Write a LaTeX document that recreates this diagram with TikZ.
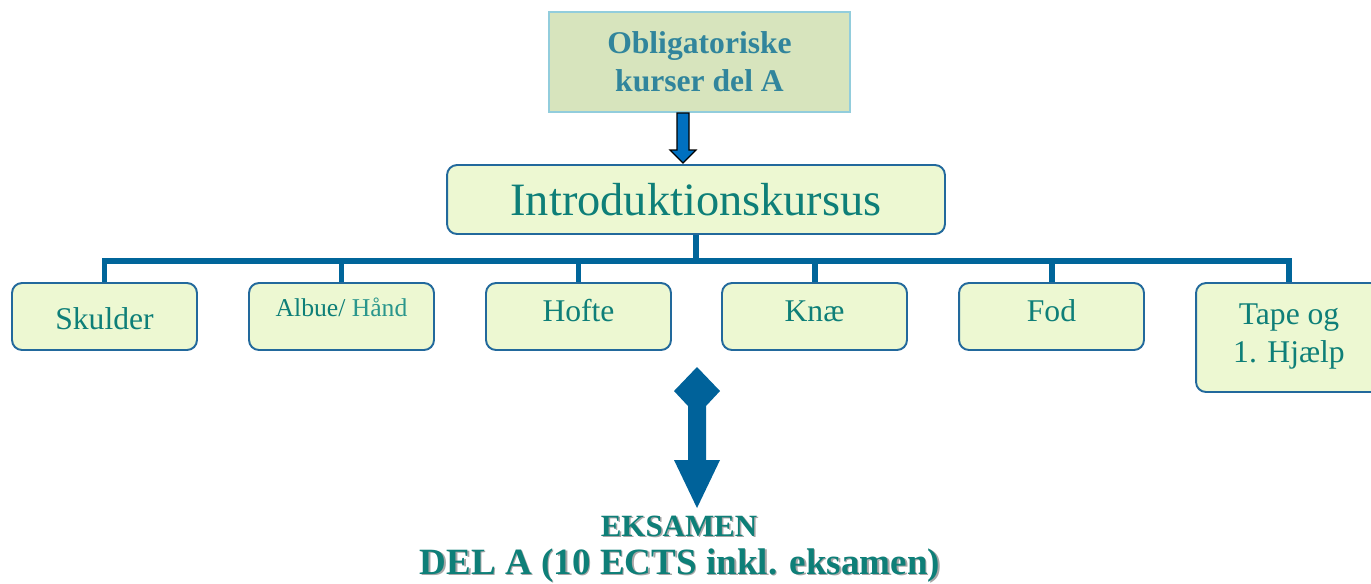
\documentclass[tikz,border=0pt]{standalone}
\usepackage{fontspec}
\setmainfont{Liberation Serif}
\definecolor{topfill}{HTML}{D7E4BD}
\definecolor{topborder}{HTML}{92CDDC}
\definecolor{toptext}{HTML}{31859C}
\definecolor{boxfill}{HTML}{EDF8D2}
\definecolor{boxborder}{HTML}{22699C}
\definecolor{busline}{HTML}{00659A}
\definecolor{tealtext}{HTML}{0E7F78}
\definecolor{handtext}{HTML}{2A968C}
\definecolor{arrowblue}{HTML}{0070C0}
\definecolor{darrow}{HTML}{00629A}
\begin{document}
\begin{tikzpicture}[x=0.02cm,y=-0.02cm,
  topbox/.style={draw=topborder,fill=topfill,line width=0.8pt,minimum width=6.02cm,minimum height=2cm,inner sep=0pt,align=center,text=toptext,font=\fontsize{18}{21.5}\selectfont\bfseries},
  introbox/.style={draw=boxborder,fill=boxfill,line width=1.1pt,rounded corners=0.2cm,minimum width=9.96cm,minimum height=1.38cm,inner sep=0pt,text=tealtext,font=\fontsize{26.4}{30}\selectfont},
  subbox/.style={draw=boxborder,fill=boxfill,line width=1.1pt,rounded corners=0.2cm,minimum width=3.7cm,minimum height=1.34cm,inner sep=0pt},
  subtext/.style={anchor=base,inner sep=0pt,text=tealtext,font=\fontsize{18}{22}\selectfont,align=center},
  conn/.style={draw=busline,line width=3.4pt},
  examtext/.style={anchor=base,inner sep=0pt,text=tealtext,font=\bfseries},
  shadowtext/.style={anchor=base,inner sep=0pt,text=black!35,font=\bfseries}
]
\useasboundingbox (0,0) rectangle (1371,583);

% top box
\node[topbox] (top) at (699.5,62) {Obligatoriske\\kurser del A};

% intro box
\node[introbox] (intro) at (696,199.5) {Introduktionskursus};

% block arrow top -> intro
\filldraw[fill=arrowblue,draw=black,line width=0.7pt]
  (677,113) -- (689,113) -- (689,150) -- (696,150) -- (683,163) -- (670,150) -- (677,150) -- cycle;

% sub boxes
\node[subbox] (b1) at (104.5,316.5) {};
\node[subbox] (b2) at (341.5,316.5) {};
\node[subbox] (b3) at (578.5,316.5) {};
\node[subbox] (b4) at (814.5,316.5) {};
\node[subbox] (b5) at (1051.5,316.5) {};
\node[subbox,minimum height=2.18cm] (b6) at (1288.5,337.5) {};

% bus connectors
\coordinate (bus) at (696,261);
\draw[conn] (intro.south) -- (bus);
\draw[conn] (bus) -| (b1.north);
\draw[conn] (bus) -| (b2.north);
\draw[conn] (bus) -| (b3.north);
\draw[conn] (bus) -| (b4.north);
\draw[conn] (bus) -| (b5.north);
\draw[conn] (bus) -| (b6.north);

% sub box texts
\node[subtext] (t1) at (104.5,329) {Skulder};
\node[subtext,font=\fontsize{14.6}{18}\selectfont] (t2) at (341.5,316) {Albue/ \textcolor{handtext}{Hånd}};
\node[subtext] (t3) at (578.5,321) {Hofte};
\node[subtext] (t4) at (814.5,321) {Knæ};
\node[subtext] (t5) at (1051.5,321) {Fod};
\node[subtext] (t6a) at (1289,324) {Tape og};
\node[subtext] (t6b) at (1289,362) {1. Hjælp};

% double ended arrow
\fill[darrow] (697,367) -- (720,391) -- (706,406) -- (706,460) -- (720,460) -- (697,508)
  -- (674,460) -- (688,460) -- (688,406) -- (674,391) -- cycle;

% exam texts
\node[shadowtext,font=\fontsize{17.6}{20}\selectfont\bfseries] at (680.5,537.5) {EKSAMEN};
\node[examtext,font=\fontsize{17.6}{20}\selectfont\bfseries] (exam) at (679,536) {EKSAMEN};
\node[shadowtext,font=\fontsize{21.1}{24}\selectfont\bfseries] at (681.5,575.5) {DEL A (10 ECTS inkl. eksamen)};
\node[examtext,font=\fontsize{21.1}{24}\selectfont\bfseries] (dela) at (680,574) {DEL A (10 ECTS inkl. eksamen)};
\end{tikzpicture}
\end{document}
